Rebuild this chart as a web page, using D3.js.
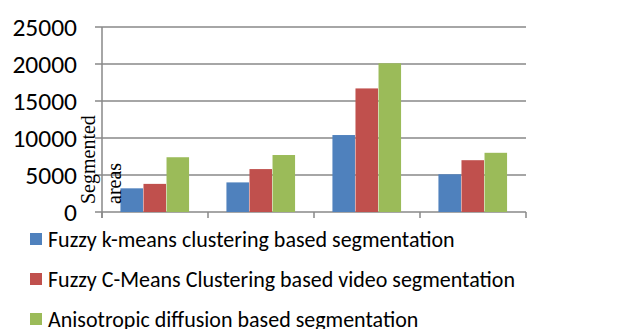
<!DOCTYPE html>
<html><head><meta charset="utf-8">
<script src="https://cdn.jsdelivr.net/npm/d3@7"></script>
<style>body{margin:0;background:#fff}svg{display:block}</style>
</head><body>
<svg id="c" width="626" height="329"></svg>
<script>
const categories = ["1", "2", "3", "4"];
const seriesNames = [
  "Fuzzy k-means clustering based segmentation",
  "Fuzzy C-Means Clustering based video segmentation",
  "Anisotropic diffusion based segmentation"
];
const fuzzyKMeans = [3200, 4000, 10400, 5100];
const fuzzyCMeans = [3800, 5800, 16700, 7000];
const anisotropic = [7400, 7700, 20100, 8000];
const yTicks = [0, 5000, 10000, 15000, 20000, 25000];
const colors = ["#4F81BD", "#C0504D", "#9BBB59"];
const series = [fuzzyKMeans, fuzzyCMeans, anisotropic];

const svg = d3.select("#c");
const font = "Carlito, Lato, 'Open Sans', sans-serif";
const x0 = d3.scaleBand().domain(categories).range([102, 526]).paddingInner(0).paddingOuter(0);
const y = d3.scaleLinear().domain([0, 25000]).range([212, 27]);
const x1 = d3.scaleBand().domain(d3.range(3)).range([0, x0.bandwidth()]).paddingOuter(0.8).paddingInner(0);

// gridlines
svg.append("g").selectAll("line").data(yTicks).join("line")
  .attr("x1", 95).attr("x2", 526).attr("y1", d => y(d)).attr("y2", d => y(d))
  .attr("stroke", "#888").attr("stroke-width", 1.5);

// y axis line
svg.append("line").attr("x1", 102).attr("x2", 102).attr("y1", y(25000)).attr("y2", 218)
  .attr("stroke", "#888").attr("stroke-width", 1.5);
// x ticks
svg.append("g").selectAll("line").data(categories.concat(["end"])).join("line")
  .attr("x1", (d, i) => 102 + i * x0.bandwidth()).attr("x2", (d, i) => 102 + i * x0.bandwidth())
  .attr("y1", 212).attr("y2", 218).attr("stroke", "#888").attr("stroke-width", 1.5);

// bars
const g = svg.append("g");
series.forEach((vals, s) => {
  g.selectAll(null).data(vals).join("rect")
    .attr("x", (d, i) => x0(categories[i]) + x1(s))
    .attr("width", x1.bandwidth() - 0.5)
    .attr("y", d => y(d))
    .attr("height", d => y(0) - y(d))
    .attr("fill", colors[s]);
});

// y tick labels
svg.append("g").selectAll("text").data(yTicks).join("text")
  .attr("x", 77).attr("y", d => y(d)).attr("dy", "0.35em")
  .attr("text-anchor", "end").attr("font-family", font).attr("font-size", 25.5)
  .attr("fill", "#000").text(d => d);

// axis title (rotated, two lines)
const t = svg.append("text").attr("font-family", "'Liberation Serif', 'DejaVu Serif', serif")
  .attr("font-size", 20).attr("fill", "#000")
  .attr("transform", "translate(95,204) rotate(-90)");
t.append("tspan").attr("x", 0).attr("y", 0).text("Segmented");
t.append("tspan").attr("x", 0).attr("y", 26).text("areas");

// legend
const leg = svg.append("g").selectAll("g").data(seriesNames).join("g")
  .attr("transform", (d, i) => `translate(30,${239 + i * 40})`);
leg.append("rect").attr("x", 0).attr("y", -6).attr("width", 12).attr("height", 12)
  .attr("fill", (d, i) => colors[i]);
leg.append("text").attr("x", 18).attr("y", 0).attr("dy", "0.35em")
  .attr("font-family", font).attr("font-size", 22).attr("fill", "#000").text(d => d);
</script>
</body></html>
